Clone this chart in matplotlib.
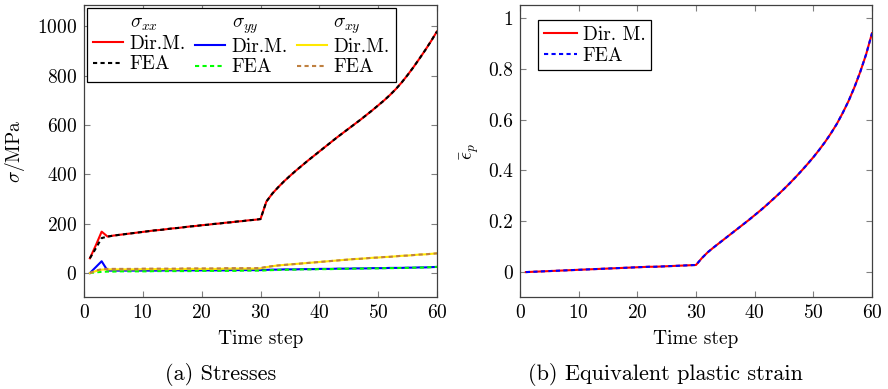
import matplotlib
matplotlib.use('Agg')
import matplotlib.pyplot as plt
from matplotlib.lines import Line2D
from matplotlib.ticker import FormatStrFormatter

# time steps 1..60
steps = list(range(1, 61))

# stresses in MPa
sxx_dm = [60, 112, 168, 148, 152, 155, 158, 161, 164, 167, 170, 173, 175, 178, 181,
          183, 186, 189, 191, 194, 196, 199, 201, 204, 206, 209, 211, 214, 216, 219,
          290, 322, 348, 372, 394, 415, 435, 455, 474, 493, 512, 531, 550, 568, 586,
          604, 622, 641, 660, 680, 700, 722, 746, 773, 803, 835, 869, 904, 941, 980]
sxx_fea = [60, 100, 142, 148, 152, 155, 158, 161, 164, 167, 170, 173, 175, 178, 181,
           183, 186, 189, 191, 194, 196, 199, 201, 204, 206, 209, 211, 214, 216, 219,
           290, 322, 348, 372, 394, 415, 435, 455, 474, 493, 512, 531, 550, 568, 586,
           604, 622, 641, 660, 680, 700, 722, 746, 773, 803, 835, 869, 904, 941, 980]
syy_dm = [0, 24, 48, 10, 10, 10, 10, 10, 10, 10, 10, 10, 10, 11, 11,
          11, 11, 11, 11, 11, 11, 11, 11, 11, 12, 12, 12, 12, 12, 12,
          13, 14, 14, 15, 15, 15, 16, 16, 16, 17, 17, 17, 18, 18, 18,
          19, 19, 19, 20, 20, 20, 21, 21, 21, 22, 22, 23, 23, 24, 25]
syy_fea = [0, 3, 5, 6, 6, 7, 7, 7, 7, 7, 7, 8, 8, 8, 8,
           8, 8, 8, 9, 9, 9, 9, 9, 9, 9, 9, 10, 10, 10, 10,
           11, 12, 13, 13, 14, 14, 15, 15, 15, 16, 16, 16, 17, 17, 18,
           18, 18, 19, 19, 19, 20, 20, 20, 21, 21, 22, 22, 23, 24, 25]
sxy_dm = [0, 8, 14, 15, 15, 15, 15, 15, 15, 16, 16, 16, 16, 16, 16,
          16, 17, 17, 17, 17, 17, 17, 17, 18, 18, 18, 18, 18, 18, 19,
          24, 28, 31, 33, 35, 37, 39, 41, 43, 45, 47, 49, 51, 53, 55,
          57, 58, 60, 62, 63, 65, 66, 68, 70, 71, 73, 75, 76, 78, 80]
sxy_fea = [0, 10, 16, 17, 17, 17, 17, 17, 17, 18, 18, 18, 18, 18, 18,
           18, 19, 19, 19, 19, 19, 19, 19, 20, 20, 20, 20, 20, 20, 21,
           25, 28, 31, 33, 35, 37, 39, 41, 43, 45, 47, 49, 51, 53, 55,
           57, 58, 60, 62, 63, 65, 66, 68, 70, 71, 73, 75, 76, 78, 80]

# equivalent plastic strain
eps_dm = [0.000, 0.001, 0.002, 0.003, 0.004, 0.005, 0.006, 0.007, 0.008, 0.009,
          0.010, 0.011, 0.012, 0.013, 0.014, 0.015, 0.016, 0.017, 0.018, 0.019,
          0.020, 0.021, 0.021, 0.022, 0.023, 0.024, 0.025, 0.026, 0.027, 0.028,
          0.055, 0.078, 0.097, 0.115, 0.133, 0.151, 0.169, 0.187, 0.205, 0.224,
          0.243, 0.263, 0.284, 0.305, 0.327, 0.350, 0.374, 0.399, 0.425, 0.452,
          0.481, 0.512, 0.546, 0.583, 0.626, 0.673, 0.727, 0.788, 0.857, 0.940]
eps_fea = [0.000, 0.001, 0.002, 0.003, 0.004, 0.005, 0.006, 0.007, 0.008, 0.009,
           0.010, 0.011, 0.012, 0.013, 0.014, 0.015, 0.016, 0.017, 0.018, 0.019,
           0.020, 0.021, 0.021, 0.022, 0.023, 0.024, 0.025, 0.026, 0.027, 0.028,
           0.055, 0.078, 0.097, 0.115, 0.133, 0.151, 0.169, 0.187, 0.205, 0.224,
           0.243, 0.263, 0.284, 0.305, 0.327, 0.350, 0.374, 0.399, 0.425, 0.452,
           0.481, 0.512, 0.546, 0.583, 0.626, 0.673, 0.727, 0.788, 0.857, 0.940]

plt.rcParams.update({
    'font.family': 'cmr10',
    'mathtext.fontset': 'cm',
    'axes.formatter.use_mathtext': True,
    'axes.unicode_minus': False,
    'font.size': 14,
})

YELLOW = '#ffe800'
BROWN = '#bf8040'
LW = 1.5
DASH = (0, (2.0, 1.6))
FS = 14


def style_axes(ax):
    ax.tick_params(direction='in', top=True, right=True, length=4, width=0.8,
                   color='0.5', labelsize=FS, pad=5)
    for s in ax.spines.values():
        s.set_linewidth(0.9)
        s.set_color('0.25')
    ax.set_xlim(0, 60)
    ax.set_xticks([0, 10, 20, 30, 40, 50, 60])
    ax.set_xlabel('Time step', fontsize=FS, labelpad=6)


fig = plt.figure(figsize=[8.88, 3.89], dpi=100)

# (a) stresses
ax1 = fig.add_axes([84 / 888, 92 / 389, 353 / 888, 292 / 389])
ax1.plot(steps, sxx_dm, color='red', lw=LW)
ax1.plot(steps, sxx_fea, color='black', lw=LW, linestyle=DASH)
ax1.plot(steps, syy_dm, color='blue', lw=LW)
ax1.plot(steps, syy_fea, color='#00ff00', lw=LW, linestyle=DASH)
ax1.plot(steps, sxy_dm, color=YELLOW, lw=LW)
ax1.plot(steps, sxy_fea, color=BROWN, lw=LW, linestyle=DASH)
style_axes(ax1)
ax1.set_ylim(-97, 1087)
ax1.set_yticks([0, 200, 400, 600, 800, 1000])
ax1.set_ylabel(r'$\sigma$/MPa', fontsize=FS, labelpad=7)

blank = Line2D([], [], color='none')
h = [blank, Line2D([], [], color='red', lw=LW), Line2D([], [], color='black', lw=LW, linestyle=DASH),
     blank, Line2D([], [], color='blue', lw=LW), Line2D([], [], color='#00ff00', lw=LW, linestyle=DASH),
     blank, Line2D([], [], color=YELLOW, lw=LW), Line2D([], [], color=BROWN, lw=LW, linestyle=DASH)]
lab = [r'$\sigma_{xx}$', 'Dir.M.', 'FEA',
       r'$\sigma_{yy}$', 'Dir.M.', 'FEA',
       r'$\sigma_{xy}$', 'Dir.M.', 'FEA']
leg = ax1.legend(h, lab, ncol=3, loc='upper left', bbox_to_anchor=(0.008, 0.99),
                 borderaxespad=0, fancybox=False, edgecolor='black', framealpha=1,
                 handlelength=1.55, handletextpad=0.35, columnspacing=0.45,
                 labelspacing=0.12, borderpad=0.3, fontsize=FS)
leg.get_frame().set_linewidth(0.9)

# (b) equivalent plastic strain
ax2 = fig.add_axes([520 / 888, 92 / 389, 352 / 888, 292 / 389])
ax2.plot(steps, eps_dm, color='red', lw=LW, label='Dir. M.')
ax2.plot(steps, eps_fea, color='blue', lw=LW, linestyle=DASH, label='FEA')
style_axes(ax2)
ax2.set_ylim(-0.098, 1.051)
ax2.set_yticks([0, 0.2, 0.4, 0.6, 0.8, 1.0])
ax2.yaxis.set_major_formatter(FormatStrFormatter('%g'))
ax2.set_ylabel(r'$\bar{\epsilon}_p$', fontsize=FS, labelpad=5)
leg2 = ax2.legend(loc='upper left', bbox_to_anchor=(18 / 352, 1 - 15 / 292),
                  borderaxespad=0, fancybox=False, edgecolor='black', framealpha=1,
                  handlelength=1.7, handletextpad=0.3, labelspacing=0.15,
                  borderpad=0.3, fontsize=FS)
leg2.get_frame().set_linewidth(0.9)

fig.text(221 / 888, 1 - 375 / 389, '(a) Stresses', ha='center', va='center', fontsize=16)
fig.text(665 / 888, 1 - 375 / 389, '(b) Equivalent plastic strain', ha='center', va='center', fontsize=16)

plt.savefig('out.png', dpi=100)
